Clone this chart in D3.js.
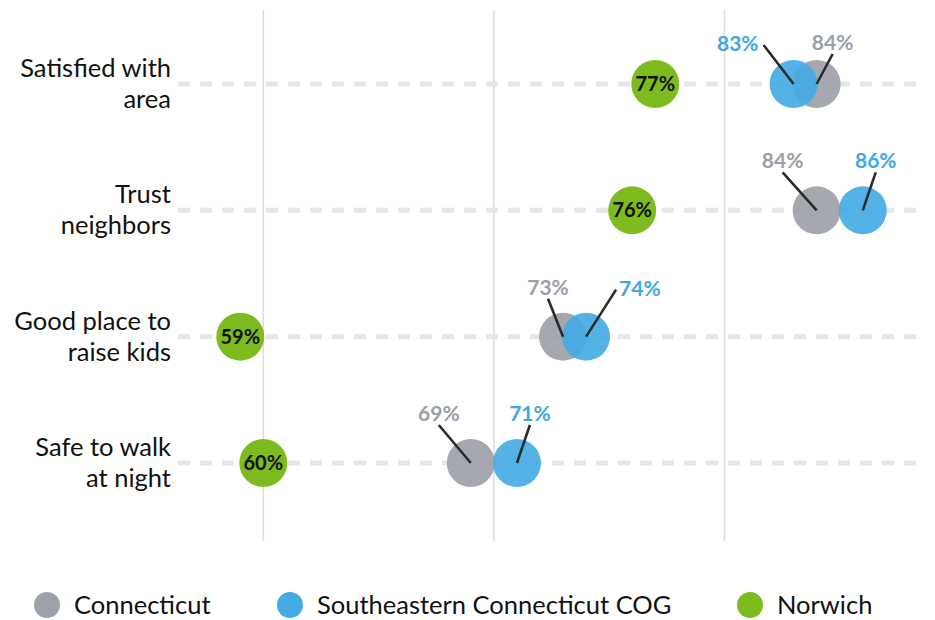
<!DOCTYPE html>
<html>
<head>
<meta charset="utf-8">
<script src="https://cdn.jsdelivr.net/npm/d3@7"></script>
<style>
  html, body { margin: 0; padding: 0; background: #fff; }
  svg { display: block; font-family: "Source Sans Pro", Lato, "Noto Sans", sans-serif; }
</style>
</head>
<body>
<svg id="chart" width="935" height="620"></svg>
<script>
// Survey measures (rows, top to bottom)
const categories = [
  ["Satisfied with", "area"],
  ["Trust", "neighbors"],
  ["Good place to", "raise kids"],
  ["Safe to walk", "at night"]
];
const seriesNames = ["Connecticut", "Southeastern Connecticut COG", "Norwich"];
const connecticut = [84, 84, 73, 69];
const seccog      = [83, 86, 74, 71];
const norwich     = [77, 76, 59, 60];
const gridTicks   = [60, 70, 80];

// Callout leader end offsets per row: [Connecticut, COG] as [dx, dy, text anchor]
const calloutOffsets = [
  [[16, -30, "middle"], [-30, -39, "end"]],
  [[-34, -38, "middle"], [13, -38, "middle"]],
  [[-15, -38, "middle"], [30, -47, "start"]],
  [[-32, -38, "middle"], [13, -38, "middle"]]
];

const colors = { ct: "#9da1a8", cog: "#45abe5", nor: "#7dbb1e" };
const textColors = { ct: "#9aa0a8", cog: "#3fa8e4" };

const svg = d3.select("#chart");
const x = d3.scaleLinear().domain([56.3, 88.7]).range([178, 925]);
const y = d3.scalePoint().domain(d3.range(categories.length)).range([84, 463]);

// Vertical gridlines
svg.append("g").selectAll("line").data(gridTicks).join("line")
  .attr("x1", d => x(d)).attr("x2", d => x(d))
  .attr("y1", 10).attr("y2", 541)
  .attr("stroke", "#dcdcdc").attr("stroke-width", 1.5);

// Dashed row guides
svg.append("g").selectAll("line").data(categories).join("line")
  .attr("x1", 178).attr("x2", 925)
  .attr("y1", (d, i) => y(i)).attr("y2", (d, i) => y(i))
  .attr("stroke", "#e6e6e6").attr("stroke-width", 5)
  .attr("stroke-dasharray", "12 10");

// Row labels (two lines each)
const rowLabels = svg.append("g").selectAll("text").data(categories).join("text")
  .attr("text-anchor", "end")
  .attr("font-size", 25.5)
  .attr("fill", "#111");
rowLabels.each(function(d, i) {
  const t = d3.select(this);
  d.forEach((line, j) => {
    t.append("tspan").attr("x", 171).attr("y", y(i) - 7 + j * 31).text(line);
  });
});

const R = 24;
const rows = d3.range(categories.length);

// Dots: Connecticut, COG, Norwich
const dots = svg.append("g");
dots.selectAll(".ct").data(rows).join("circle").attr("class", "ct")
  .attr("cx", i => x(connecticut[i])).attr("cy", i => y(i)).attr("r", R)
  .attr("fill", colors.ct).attr("fill-opacity", 0.92);
dots.selectAll(".cog").data(rows).join("circle").attr("class", "cog")
  .attr("cx", i => x(seccog[i])).attr("cy", i => y(i)).attr("r", R)
  .attr("fill", colors.cog).attr("fill-opacity", 0.92);
dots.selectAll(".nor").data(rows).join("circle").attr("class", "nor")
  .attr("cx", i => x(norwich[i])).attr("cy", i => y(i)).attr("r", R)
  .attr("fill", colors.nor);

// Norwich value inside its dot
svg.append("g").selectAll("text").data(rows).join("text")
  .attr("x", i => x(norwich[i])).attr("y", i => y(i) + 7)
  .attr("text-anchor", "middle").attr("font-size", 20).attr("font-weight", 700)
  .attr("fill", "#111")
  .text(i => norwich[i] + "%");

// Callouts for Connecticut and COG
const callouts = [];
rows.forEach(i => {
  [["ct", connecticut], ["cog", seccog]].forEach(([key, arr], s) => {
    const [dx, dy, anchor] = calloutOffsets[i][s];
    callouts.push({ key, value: arr[i], row: i, dx, dy, anchor });
  });
});
const cg = svg.append("g");
cg.selectAll("line").data(callouts).join("line")
  .attr("x1", d => x(d.value)).attr("y1", d => y(d.row))
  .attr("x2", d => x(d.value) + d.dx).attr("y2", d => y(d.row) + d.dy)
  .attr("stroke", "#2b2b2b").attr("stroke-width", 2.6);
cg.selectAll("text").data(callouts).join("text")
  .attr("x", d => x(d.value) + d.dx + (d.anchor === "end" ? -5 : d.anchor === "start" ? 3 : 0))
  .attr("y", d => y(d.row) + d.dy + (d.anchor === "middle" ? -4 : 6))
  .attr("text-anchor", d => d.anchor)
  .attr("font-size", 21).attr("font-weight", 700)
  .attr("fill", d => textColors[d.key])
  .text(d => d.value + "%");

// Legend
const legendX = [47, 290, 750];
const legendKeys = ["ct", "cog", "nor"];
const lg = svg.append("g").selectAll("g").data(seriesNames).join("g")
  .attr("transform", (d, i) => `translate(${legendX[i]},605)`);
lg.append("circle").attr("r", 13).attr("fill", (d, i) => colors[legendKeys[i]]);
lg.append("text").attr("x", 27).attr("y", 9)
  .attr("font-size", 25.5).attr("fill", "#111").text(d => d);
</script>
</body>
</html>
